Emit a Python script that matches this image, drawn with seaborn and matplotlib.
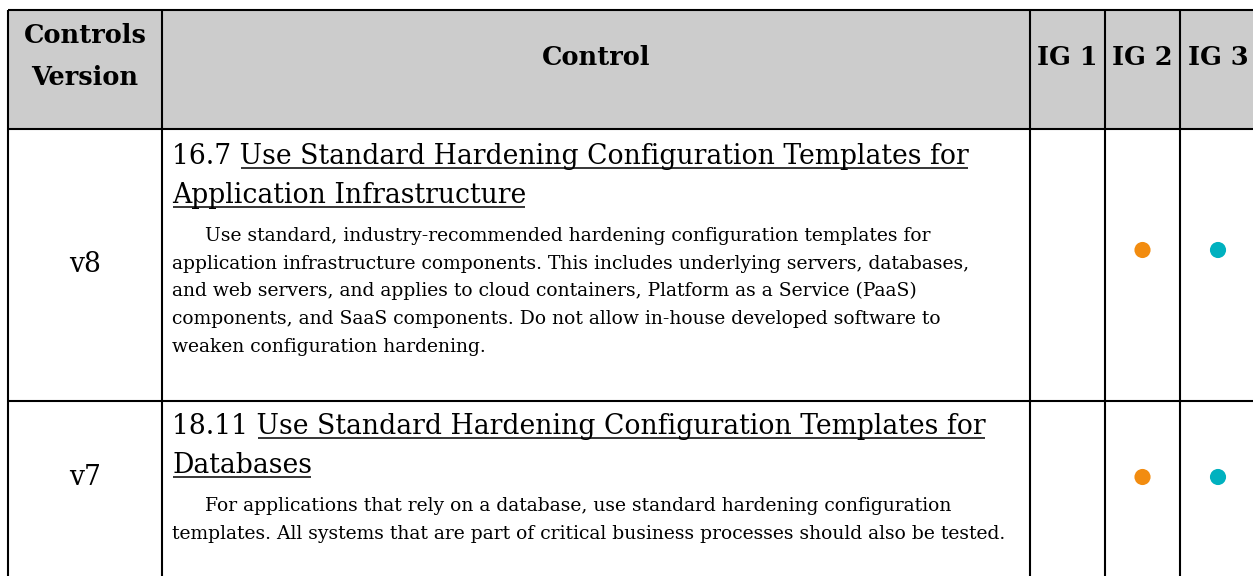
import numpy as np
import pandas as pd
import matplotlib
matplotlib.use("Agg")
import matplotlib.pyplot as plt
import seaborn as sns

# ---- table content ----
header_labels = ["Controls\nVersion", "Control", "IG 1", "IG 2", "IG 3"]
versions = ["v8", "v7"]
control_ids = ["16.7", "18.11"]
control_titles = [
    ["Use Standard Hardening Configuration Templates for",
     "Application Infrastructure"],
    ["Use Standard Hardening Configuration Templates for",
     "Databases"],
]
descriptions = [
    ["Use standard, industry-recommended hardening configuration templates for",
     "application infrastructure components. This includes underlying servers, databases,",
     "and web servers, and applies to cloud containers, Platform as a Service (PaaS)",
     "components, and SaaS components. Do not allow in-house developed software to",
     "weaken configuration hardening."],
    ["For applications that rely on a database, use standard hardening configuration",
     "templates. All systems that are part of critical business processes should also be tested."],
]
ig1 = [False, False]
ig2 = [True, True]
ig3 = [True, True]

# ---- layout (pixels) ----
W, H = 1253, 576
col_edges = [8, 162, 1030, 1105, 1180, 1256]
top, header_bottom = 10, 129
row_bottoms = [401, 600]
row_text_top = [164, 434]       # baseline of first title line
row_mark_y = [250, 477]
row_version_base = [272, 485]
text_x = 172
indent = 33
title_step = 39
body_gap = 38
body_step = 27.7

GRAY = "#cccccc"
IG_COLORS = {"IG 2": "#f28c10", "IG 3": "#00b1bf"}
LW = 1.5
FONT = "DejaVu Serif"

sns.set_theme(style="white")
plt.rcParams["font.family"] = [FONT, "DejaVu Sans"]
plt.rcParams["text.color"] = "black"

fig = plt.figure(figsize=(W / 100, H / 100), dpi=100)
ax = fig.add_axes([0, 0, 1, 1])
ax.set_xlim(0, W)
ax.set_ylim(H, 0)
ax.axis("off")
renderer = fig.canvas.get_renderer()
inv = ax.transData.inverted()


def text_width(s, size, weight="normal"):
    t = ax.text(0, 0, s, fontsize=size, fontweight=weight)
    bb = t.get_window_extent(renderer=renderer)
    t.remove()
    return bb.width


def fit(s, target, weight="normal"):
    return 20 * target / text_width(s, 20, weight)


title_fs = fit("16.7 Use Standard Hardening Configuration Templates for", 794)
body_fs = fit(descriptions[0][0], 731)
head_fs = fit("Controls", 123, "bold")

# header background
ax.fill_between([col_edges[0], W], top, header_bottom, color=GRAY, lw=0)

# grid lines
ax.hlines([top, header_bottom] + row_bottoms[:-1], col_edges[0], W, color="black", lw=LW)
ax.vlines(col_edges[:-1], top, H, color="black", lw=LW)

# header text
centers = [(a + b) / 2 for a, b in zip(col_edges[:-1], col_edges[1:])]
ax.text(centers[0], 43, "Controls", ha="center", va="baseline",
        fontsize=head_fs, fontweight="bold", color="black")
ax.text(centers[0], 85, "Version", ha="center", va="baseline",
        fontsize=head_fs, fontweight="bold", color="black")
for cx, lab in zip(centers[1:], header_labels[1:]):
    ax.text(cx, 65, lab, ha="center", va="baseline", fontsize=head_fs,
            fontweight="bold", color="black")


def underline(t, y, x_start=None):
    bb = t.get_window_extent(renderer=renderer)
    x0 = inv.transform((bb.x0, bb.y0))[0] if x_start is None else x_start
    x1 = inv.transform((bb.x1, bb.y0))[0]
    ax.plot([x0 + 1, x1 - 1], [y + 3.5, y + 3.5], color="black", lw=1.1,
            solid_capstyle="butt")


fig.canvas.draw()
for i in range(len(versions)):
    ax.text(centers[0], row_version_base[i], versions[i], ha="center",
            va="baseline", fontsize=title_fs, color="black")
    y = row_text_top[i]
    first = f"{control_ids[i]} {control_titles[i][0]}"
    t = ax.text(text_x, y, first, va="baseline", fontsize=title_fs, color="black")
    pre = text_width(control_ids[i] + " U", title_fs) - text_width("U", title_fs)
    underline(t, y, text_x + pre)
    for line in control_titles[i][1:]:
        y += title_step
        t = ax.text(text_x, y, line, va="baseline", fontsize=title_fs, color="black")
        underline(t, y)
    y += body_gap
    for k, line in enumerate(descriptions[i]):
        x = text_x + (indent if k == 0 else 0)
        ax.text(x, y, line, va="baseline", fontsize=body_fs, color="black")
        y += body_step

# implementation group markers
rows = []
for i in range(len(versions)):
    for lab, flags in zip(["IG 1", "IG 2", "IG 3"], [ig1, ig2, ig3]):
        if flags[i]:
            rows.append({"group": lab, "x": centers[header_labels.index(lab)],
                         "y": row_mark_y[i]})
marks = pd.DataFrame(rows)
sns.scatterplot(data=marks, x="x", y="y", hue="group", palette=IG_COLORS,
                s=135, linewidth=0, legend=False, ax=ax)
ax.set_xlim(0, W)
ax.set_ylim(H, 0)
ax.axis("off")

fig.savefig("out.png", dpi=100)
